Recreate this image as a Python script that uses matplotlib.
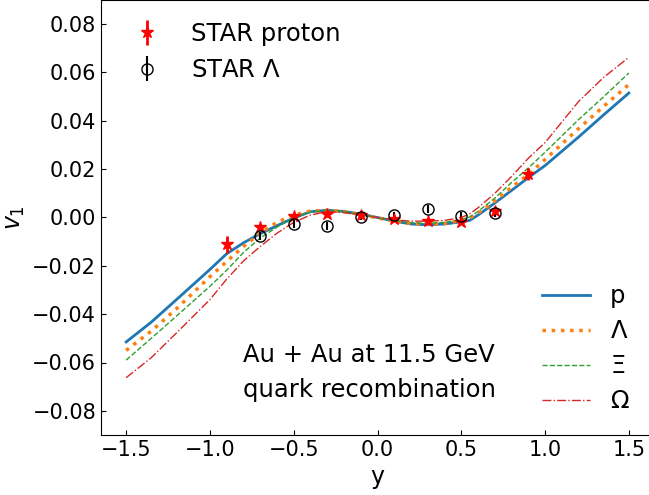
import numpy as np
import matplotlib.pyplot as plt

plt.rcParams['font.size'] = 15

# model curves (quark recombination)
y_model = [-1.5, -1.35, -1.2, -1.0, -0.9, -0.8, -0.7, -0.6, -0.5, -0.4, -0.3, -0.2, -0.1,
           0.0, 0.1, 0.2, 0.3, 0.4, 0.5, 0.55, 0.6, 0.7, 0.8, 0.9, 1.0, 1.2, 1.35, 1.5]
v1_p = [-0.0515, -0.0433, -0.0340, -0.0215, -0.0150, -0.0105, -0.0067, -0.0034, -0.0002, 0.0024,
        0.0030, 0.0025, 0.0014, 0.0, -0.0015, -0.0027, -0.0030, -0.0027, -0.0018, -0.0012,
        0.0010, 0.0060, 0.0112, 0.0165, 0.0215, 0.0333, 0.0425, 0.0515]
v1_lam = [-0.0550, -0.0470, -0.0378, -0.0245, -0.0182, -0.0120, -0.0065, -0.0020, 0.0010, 0.0027,
          0.0030, 0.0025, 0.0012, -0.0002, -0.0015, -0.0025, -0.0027, -0.0025, -0.0012, -0.0002,
          0.0018, 0.0068, 0.0125, 0.0178, 0.0240, 0.0368, 0.0460, 0.0550]
v1_xi = [-0.0590, -0.0500, -0.0408, -0.0285, -0.0218, -0.0145, -0.0085, -0.0040, 0.0000, 0.0022,
         0.0030, 0.0025, 0.0012, -0.0001, -0.0013, -0.0022, -0.0024, -0.0020, -0.0008, 0.0002,
         0.0025, 0.0080, 0.0145, 0.0205, 0.0270, 0.0405, 0.0500, 0.0598]
v1_om = [-0.0663, -0.0580, -0.0478, -0.0340, -0.0255, -0.0180, -0.0120, -0.0065, -0.0020, 0.0010,
         0.0025, 0.0020, 0.0010, 0.0000, -0.0010, -0.0015, -0.0015, -0.0012, 0.0000, 0.0015,
         0.0040, 0.0100, 0.0170, 0.0245, 0.0310, 0.0480, 0.0580, 0.0663]

# STAR data
y_p = [-0.9, -0.7, -0.5, -0.3, -0.1, 0.1, 0.3, 0.5, 0.7, 0.9]
v1_star_p = [-0.0110, -0.0038, 0.0006, 0.0014, 0.0010, -0.0006, -0.0015, -0.0018, 0.0026, 0.0180]
err_star_p = [0.0035, 0.0012, 0.0010, 0.0010, 0.0010, 0.0010, 0.0010, 0.0010, 0.0012, 0.0025]
y_l = [-0.7, -0.5, -0.3, -0.1, 0.1, 0.3, 0.5, 0.7]
v1_star_l = [-0.0076, -0.0027, -0.0035, 0.0002, 0.0010, 0.0035, 0.0006, 0.0019]
err_star_l = [0.0018, 0.0015, 0.0015, 0.0012, 0.0012, 0.0015, 0.0015, 0.0018]

fig = plt.figure(figsize=(6.49, 4.95), dpi=100)
ax = fig.add_axes([101 / 649, 60 / 495, 553 / 649, 435 / 495])

h1 = ax.errorbar(y_p, v1_star_p, yerr=err_star_p, fmt='*', color='red', ms=9, elinewidth=2,
                 label='STAR proton', zorder=5)
h2 = ax.errorbar(y_l, v1_star_l, yerr=err_star_l, fmt='o', color='black', mfc='none', ms=8,
                 elinewidth=1.5, label=r'STAR $\Lambda$', zorder=5)

l1, = ax.plot(y_model, v1_p, '-', color='tab:blue', lw=2, label='p')
l2, = ax.plot(y_model, v1_lam, ':', color='tab:orange', lw=2.5, label=r'$\Lambda$')
l3, = ax.plot(y_model, v1_xi, '--', color='tab:green', lw=1, label=r'$\Xi$')
l4, = ax.plot(y_model, v1_om, '-.', color='tab:red', lw=1, label=r'$\Omega$')

ax.set_xlim(-1.65, 1.65)
ax.set_ylim(-0.09, 0.09)
ax.set_xticks([-1.5, -1.0, -0.5, 0.0, 0.5, 1.0, 1.5])
ax.set_yticks(np.arange(-0.08, 0.081, 0.02))
ax.tick_params(direction='in')
ax.set_xlabel('y', fontsize=17)
ax.set_ylabel(r'$v_1$', fontsize=17)

leg1 = ax.legend(handles=[h1, h2], loc='upper left', frameon=False, fontsize=17.5)
ax.add_artist(leg1)
ax.legend(handles=[l1, l2, l3, l4], loc='lower right', frameon=False, fontsize=17.5,
          handlelength=2.0, labelspacing=0.45, bbox_to_anchor=(0.995, 0.0))

ax.text(-0.805, -0.057, 'Au + Au at 11.5 GeV', va='center', fontsize=17.5)
ax.text(-0.805, -0.0713, 'quark recombination', va='center', fontsize=17.5)

fig.savefig('out.png', dpi=100)
